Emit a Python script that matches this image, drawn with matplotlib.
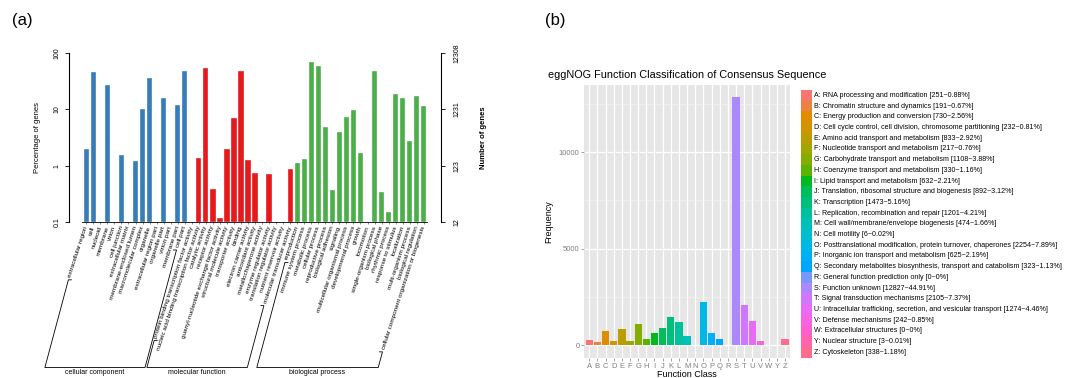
import numpy as np
import matplotlib
matplotlib.use("Agg")
import matplotlib.pyplot as plt
from matplotlib.lines import Line2D
from matplotlib.ticker import NullLocator

plt.rcParams['font.family'] = ['Liberation Sans', 'DejaVu Sans']

# ---------------- panel (a): GO classification (percent of genes)
cc_terms = ["extracellular region", "cell", "nucleoid", "membrane", "virion",
            "cell junction", "extracellular matrix", "membrane-enclosed lumen",
            "macromolecular complex", "organelle", "extracellular region part",
            "organelle part", "virion part", "membrane part", "cell part"]
cc_pct = [1.97, 46.8, 0, 27.5, 0, 1.55, 0, 1.19, 10.3, 36.6, 0, 16.1, 0, 12.0, 47.3]

mf_terms = ["protein binding transcription factor activity",
            "nucleic acid binding transcription factor activity",
            "catalytic activity", "receptor activity",
            "guanyl-nucleotide exchange factor activity",
            "structural molecule activity", "transporter activity", "binding",
            "electron carrier activity", "antioxidant activity",
            "metallochaperone activity", "enzyme regulator activity",
            "translation regulator activity", "nutrient reservoir activity",
            "molecular transducer activity"]
mf_pct = [0, 1.37, 54.3, 0.386, 0.12, 1.98, 7.0, 48.7, 1.24, 0.73, 0, 0.70, 0, 0, 0.87]

bp_terms = ["reproduction", "immune system process", "metabolic process",
            "cellular process", "reproductive process", "biological adhesion",
            "signaling", "multicellular organismal process",
            "developmental process", "growth", "locomotion",
            "single-organism process", "biological phase", "rhythmic process",
            "response to stimulus", "localization", "multi-organism process",
            "biological regulation",
            "cellular component organization or biogenesis"]
bp_pct = [1.12, 1.31, 69.5, 59.7, 4.79, 0.364, 3.9, 7.4, 9.75, 1.70, 0,
          48.0, 0.336, 0.152, 19.0, 15.9, 2.75, 17.5, 11.6]

total_genes = 12308

# ---------------- panel (b): eggNOG classes
cog_codes = list("ABCDEFGHIJKLMNOPQRSTUVWYZ")
cog_names = ["RNA processing and modification",
             "Chromatin structure and dynamics",
             "Energy production and conversion",
             "Cell cycle control, cell division, chromosome partitioning",
             "Amino acid transport and metabolism",
             "Nucleotide transport and metabolism",
             "Carbohydrate transport and metabolism",
             "Coenzyme transport and metabolism",
             "Lipid transport and metabolism",
             "Translation, ribosomal structure and biogenesis",
             "Transcription",
             "Replication, recombination and repair",
             "Cell wall/membrane/envelope biogenesis",
             "Cell motility",
             "Posttranslational modification, protein turnover, chaperones",
             "Inorganic ion transport and metabolism",
             "Secondary metabolites biosynthesis, transport and catabolism",
             "General function prediction only",
             "Function unknown",
             "Signal transduction mechanisms",
             "Intracellular trafficking, secretion, and vesicular transport",
             "Defense mechanisms",
             "Extracellular structures",
             "Nuclear structure",
             "Cytoskeleton"]
cog_counts = [251, 191, 730, 232, 833, 217, 1108, 330, 632, 892, 1473, 1201,
              474, 6, 2254, 625, 323, 0, 12827, 2105, 1274, 242, 0, 3, 338]


# ggplot hue palette (polar Luv -> sRGB)
def hcl_hex(h, c=100.0, l=65.0):
    Xn, Yn, Zn = 95.047, 100.0, 108.883
    un = 4 * Xn / (Xn + 15 * Yn + 3 * Zn)
    vn = 9 * Yn / (Xn + 15 * Yn + 3 * Zn)
    hr = np.deg2rad(h)
    u, v = c * np.cos(hr), c * np.sin(hr)
    Y = Yn * ((l + 16) / 116) ** 3
    up = u / (13 * l) + un
    vp = v / (13 * l) + vn
    X = Y * 9 * up / (4 * vp)
    Z = Y * (12 - 3 * up - 20 * vp) / (4 * vp)
    M = np.array([[3.2404542, -1.5371385, -0.4985314],
                  [-0.9692660, 1.8760108, 0.0415560],
                  [0.0556434, -0.2040259, 1.0572252]])
    rgb = M @ np.array([X, Y, Z]) / 100
    rgb = np.where(rgb <= 0.0031308, 12.92 * rgb, 1.055 * np.abs(rgb) ** (1 / 2.4) - 0.055)
    return tuple(np.clip(rgb, 0, 1))


W, H = 1077, 378
fig = plt.figure(figsize=(W / 100, H / 100), dpi=100)
fig.patch.set_facecolor('white')

# ======================= panel (a)
ax = fig.add_axes([69 / W, 1 - 222 / H, 372 / W, 169 / H])
ax.set_yscale('log')
groups = [(cc_terms, cc_pct, '#377EB8', 'cellular component'),
          (mf_terms, mf_pct, '#E41A1C', 'molecular function'),
          (bp_terms, bp_pct, '#4DAF4A', 'biological process')]
all_terms = []
spans = []
start = 0
for terms, pct, color, name in groups:
    vals = np.array(pct, dtype=float)
    xs = np.arange(start, start + len(terms))
    keep = vals > 0
    ax.bar(xs[keep], vals[keep] - 0.1, bottom=0.1, width=0.76, color=color,
           edgecolor='white', linewidth=0.25)
    all_terms += terms
    spans.append((start, start + len(terms) - 1, name))
    start += len(terms)

ax.set_xlim(-2.46, 50.45)
ax.set_ylim(0.1, 100)
ax.set_xticks(np.arange(len(all_terms)))
ax.set_xticklabels(all_terms, rotation=72, ha='right', va='center',
                   rotation_mode='anchor', fontsize=4.6)
ax.tick_params(axis='x', length=1.5, width=0.4, pad=1.5, color='#333333')
ax.set_yticks([0.1, 1, 10, 100])
ax.set_yticklabels(['0.1', '1', '10', '100'], rotation=90, va='center', fontsize=5)
ax.yaxis.set_minor_locator(NullLocator())
ax.tick_params(axis='y', length=3, width=0.6, pad=3)
ax.set_ylabel('Percentage of genes', fontsize=5.5, labelpad=9)
for s in ['top', 'right']:
    ax.spines[s].set_visible(False)
ax.spines['bottom'].set_bounds(-0.65, len(all_terms) - 0.5)
ax.spines['bottom'].set_linewidth(0.6)
ax.spines['left'].set_linewidth(0.8)
ax.patch.set_alpha(0)

ax2 = ax.twinx()
ax2.set_yscale('log')
ax2.set_ylim(total_genes * 0.001, total_genes)
gene_ticks = total_genes * np.array([0.001, 0.01, 0.1, 1])
ax2.set_yticks(gene_ticks)
ax2.set_yticklabels([f"{round(v)}" for v in gene_ticks], rotation=90,
                    va='center', fontsize=5)
ax2.yaxis.set_minor_locator(NullLocator())
ax2.tick_params(axis='y', length=3, width=0.6, pad=6)
ax2.set_ylabel('Number of genes', fontsize=5.5, fontweight='bold', labelpad=14)
for s in ['top', 'left', 'bottom']:
    ax2.spines[s].set_visible(False)
ax2.spines['right'].set_linewidth(0.8)

fig.text(12 / W, 1 - 21 / H, '(a)', fontsize=12, va='center')

# ======================= panel (b)
cog_colors = [hcl_hex(h) for h in np.linspace(15, 375, len(cog_codes) + 1)[:-1]]
axb = fig.add_axes([584.3 / W, 1 - 357.7 / H, 205.7 / W, 272.7 / H])
axb.set_facecolor('#E6E6E6')
xb = np.arange(len(cog_codes))
axb.bar(xb, cog_counts, width=0.9, color=cog_colors, zorder=3)
axb.set_xlim(-0.6, len(cog_codes) - 0.4)
top = max(cog_counts)
axb.set_ylim(-0.05 * top, 1.05 * top)
axb.set_xticks(xb)
axb.set_xticklabels(cog_codes)
axb.set_yticks([0, 5000, 10000])
axb.set_yticks([2500, 7500, 12500], minor=True)
axb.grid(True, which='major', color='white', linewidth=0.9, zorder=0)
axb.grid(True, which='minor', axis='y', color='#F5F5F5', linewidth=0.4, zorder=0)
axb.set_axisbelow(True)
axb.tick_params(which='major', length=2, width=0.5, color='#7F7F7F',
                labelcolor='#7F7F7F', labelsize=5.5, pad=1.5)
axb.tick_params(which='minor', length=0)
for s in axb.spines.values():
    s.set_visible(False)
axb.set_xlabel('Function Class', fontsize=6.5, labelpad=0.5)
axb.set_ylabel('Frequency', fontsize=6.5, labelpad=4)
fig.text(548 / W, 1 - 75 / H,
         'eggNOG Function Classification of Consensus Sequence',
         fontsize=7.8, va='center')
fig.text(545 / W, 1 - 21 / H, '(b)', fontsize=12, va='center')

# legend as its own axes
total = sum(cog_counts)
axl = fig.add_axes([801 / W, 1 - 357.7 / H, 276 / W, 267.7 / H])
axl.axis('off')
axl.set_xlim(0, 276)
axl.set_ylim(len(cog_codes) - 0.5, -0.5)
yl = np.arange(len(cog_codes))
axl.barh(yl, 10.7, height=1.0, left=0, color=cog_colors)
for i, (code, name, n) in enumerate(zip(cog_codes, cog_names, cog_counts)):
    p = round(100 * n / total, 2)
    axl.text(12.5, i, f"{code}: {name} [{n}~{p:g}%]", fontsize=5.1,
             va='center', ha='left')

# ======================= brackets under the GO labels
fig.canvas.draw()
renderer = fig.canvas.get_renderer()
labels = ax.get_xticklabels()
yb = H - 367.5
slope = 1 / np.tan(np.deg2rad(75))


def foot(lbl):
    bb = lbl.get_window_extent(renderer)
    x0, y0 = bb.x0 + 1.0, bb.y0 - 2.0
    y0 = max(y0, yb)
    return (x0, y0), (x0 - slope * (y0 - yb), yb)


for i0, i1, name in spans:
    (ax0, ay0), (bx0, by0) = foot(labels[i0])
    (ax1, ay1), (bx1, by1) = foot(labels[i1])
    xs = np.array([ax0 + 3, ax0, bx0, bx1, ax1, ax1 - 3]) / W
    ys = np.array([ay0, ay0, by0, by1, ay1, ay1]) / H
    fig.add_artist(Line2D(xs, ys, transform=fig.transFigure, color='black',
                          linewidth=0.6))
    fig.text((bx0 + bx1) / 2 / W, (yb - 1.5) / H, name, fontsize=5,
             ha='center', va='top')

fig.savefig('out.png', dpi=100)
